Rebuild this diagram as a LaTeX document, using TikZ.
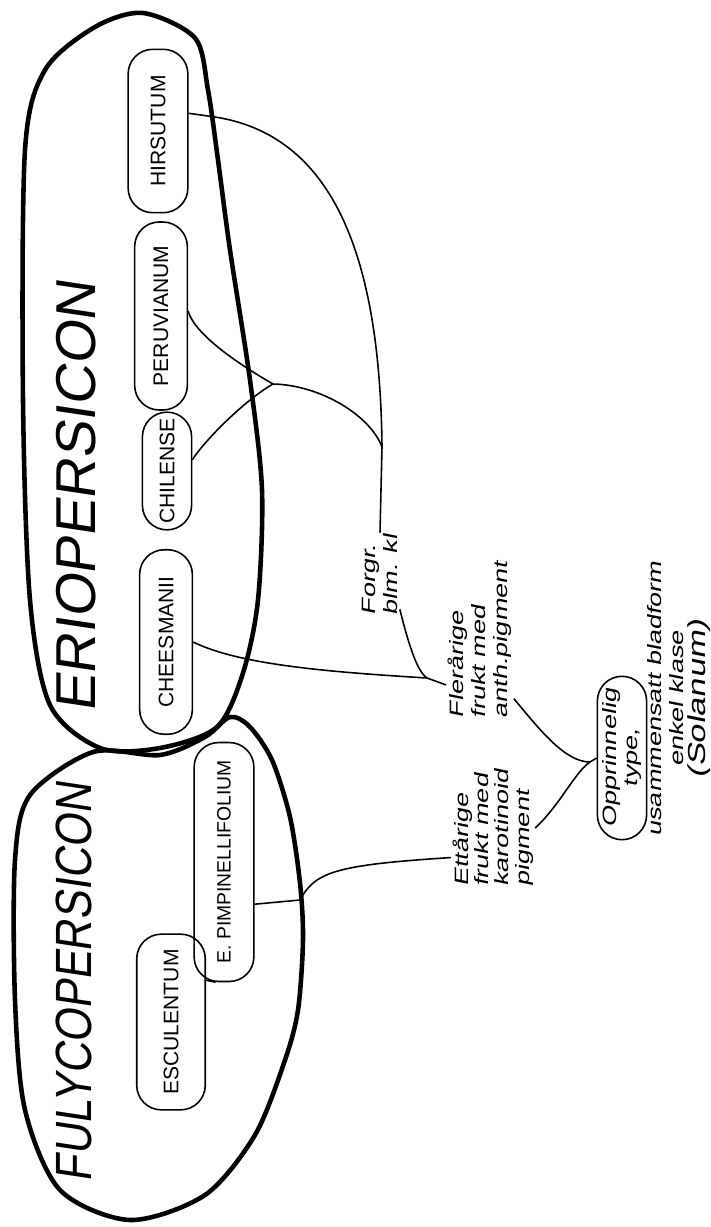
\documentclass[tikz,border=0pt]{standalone}
\usepackage{fontspec}
\setmainfont{Liberation Sans}
\newfontfamily\handfont{Liberation Sans}[FakeStretch=1.4, FakeSlant=0.2]
\newfontfamily\bigfont{Liberation Sans}[FakeSlant=0.15]
\newfontfamily\narrowfont{Liberation Sans}[FakeStretch=0.85, FakeSlant=0.15]
\usepackage{tikz}

\begin{document}
\begin{tikzpicture}[x=0.02cm, y=-0.02cm,
  blob/.style={line width=2.6pt, line join=round},
  species/.style={draw, line width=0.9pt, rotate=90, rounded corners=14pt, inner sep=2pt, font=\fontsize{12}{14}\selectfont},
  note/.style={rotate=90, align=left, inner sep=1pt, font=\handfont\fontsize{11}{12.5}\selectfont},
  link/.style={line width=0.9pt}]
 \useasboundingbox (0,0) rectangle (710,1227);

 % the two sections
 \draw[blob] plot[smooth cycle, tension=0.5] coordinates {(143,13) (195,38) (208,90) (218,160) (230,250) (250,380) (262,490) (258,600) (243,673) (217,727) (160,748) (100,748) (50,705) (30,600) (23,400) (25,150) (45,70) (95,27)};
 \draw[blob] plot[smooth cycle, tension=0.5] coordinates {(93,752) (160,755) (205,737) (230,717) (250,727) (272,760) (290,817) (300,883) (303,940) (298,1010) (285,1060) (255,1135) (205,1195) (130,1220) (60,1190) (25,1110) (15,1000) (15,860) (30,795)};
 \node[rotate=90, font=\bigfont\fontsize{32}{34}\selectfont] (erio) at (76,497) {ERIOPERSICON};
 \node[rotate=90, font=\narrowfont\fontsize{29}{32}\selectfont] (fuly) at (74,983) {FULYCOPERSICON};

 % species
 \node[species, minimum width=93pt, minimum height=34pt] (hir) at (158,131) {HIRSUTUM};
 \node[species, minimum width=107pt, minimum height=30pt] (peru) at (161,316) {PERUVIANUM};
 \node[species, minimum width=67pt, minimum height=28pt] (chil) at (167,471) {CHILENSE};
 \node[species, minimum width=105pt, minimum height=30pt] (chees) at (166,642) {CHEESMANII};
 \node[species, minimum width=136pt, minimum height=34pt, font=\fontsize{11}{13}\selectfont] (pimp) at (224,862) {E. PIMPINELLIFOLIUM};
 \node[species, minimum width=100pt, minimum height=39pt] (esc) at (171,1022) {ESCULENTUM};
 \node[species, minimum width=93pt, minimum height=28pt, inner sep=1pt, align=center, font=\handfont\fontsize{11}{12}\selectfont] (opp) at (622,758) {Opprinnelig\\type,};

 % notes
 \node[note] (forgr) at (380,575) {Forgr.\\blm. kl};
 \node[note] (fler) at (480,640) {Flerårige\\frukt med\\anth.pigment};
 \node[note, font=\handfont\fontsize{11}{11.5}\selectfont] (ett) at (493,828) {Ettårige\\frukt med\\karotinoid\\pigment};
 \node[note, align=center] (oppnote) at (679,699) {usammensatt bladform\\enkel klase\\{\fontsize{14}{14}\selectfont (Solanum)}};

 % forks
 \coordinate (pc) at (273,384);
 \coordinate (hf) at (382,447);
 \coordinate (cf) at (427,678);
 \coordinate (of) at (590,762);

 \draw[link] (hir.-60) -- (215,117) .. controls (330,135) and (380,250) .. (hf) -- (forgr.east);
 \draw[link] (peru.-80) .. controls (195,335) and (240,365) .. (pc);
 \draw[link] (chil.-66) .. controls (205,440) and (245,400) .. (pc);
 \draw[link] (pc) .. controls (320,385) and (370,415) .. (hf);
 \draw[link] (forgr.-150) .. controls (410,650) and (418,672) .. (cf);
 \draw[link] (chees.south) .. controls (240,665) and (330,672) .. (cf) -- (fler.143);
 \draw[link] (fler.-150) .. controls (540,730) and (565,762) .. (of);
 \draw[link] (ett.south) .. controls (560,805) and (575,772) .. (of);
 \draw[link] (of) -- (opp.north);
 \draw[link] (pimp.-144) -- (300,900) .. controls (315,872) and (335,865) .. (ett.125);
 \draw[link] (esc.-40) -- (pimp.176);
\end{tikzpicture}
\end{document}
